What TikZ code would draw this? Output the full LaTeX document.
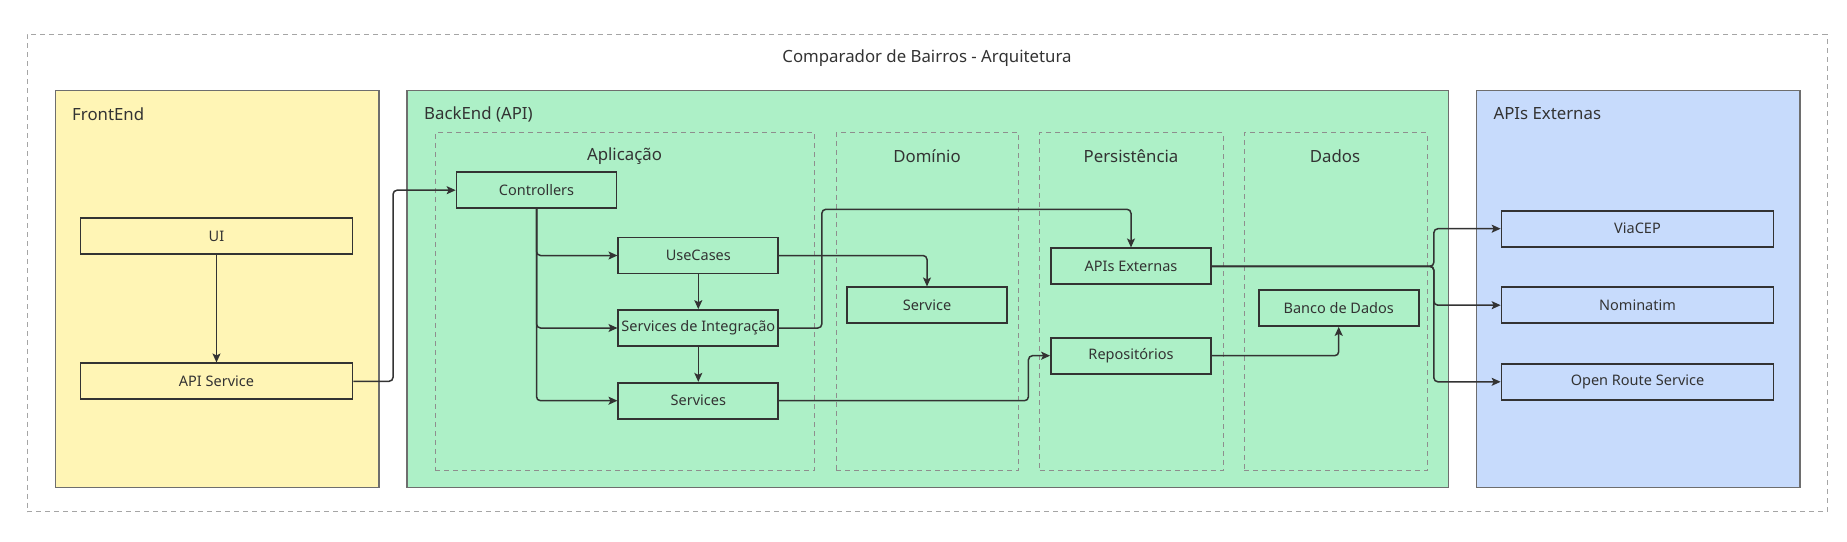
\documentclass[tikz,border=0pt]{standalone}
\usepackage{fontspec}
\setmainfont{Noto Sans}
\usepackage{xcolor}
\usepackage{tikz}
\usetikzlibrary{positioning,calc,arrows.meta}

\definecolor{frontfill}{HTML}{FFF5B5}
\definecolor{backfill}{HTML}{ADF0C7}
\definecolor{extfill}{HTML}{C7DBFC}
\definecolor{boxline}{HTML}{333333}
\definecolor{groupline}{HTML}{6E6E6E}
\definecolor{dashline}{HTML}{8E8E8E}
\definecolor{textgray}{HTML}{333333}

\begin{document}
\begin{tikzpicture}[
    x=1pt, y=-1pt,
    font=\fontsize{14.5}{17}\selectfont,
    block/.style={draw=boxline, line width=1.7pt, minimum width=160pt, minimum height=36pt, inner sep=0pt, text=textgray},
    wideblock/.style={block, minimum width=272pt},
    group/.style={draw=groupline, line width=1.4pt, anchor=north west, inner sep=0pt},
    layer/.style={draw=dashline, line width=1pt, dash pattern=on 5pt off 4pt, anchor=north west, inner sep=0pt},
    grouptitle/.style={anchor=west, inner sep=0pt, font=\fontsize{16.8}{20}\selectfont, text=textgray},
    layertitle/.style={inner sep=0pt, font=\fontsize{16.8}{20}\selectfont, text=textgray},
    flow/.style={draw=boxline, line width=1.5pt, rounded corners=4pt, -{Stealth[length=9pt,width=8pt,inset=2pt]}}
]
    \useasboundingbox (0,0) rectangle (1847,541);

    % containers
    \node[layer, draw=dashline!80, minimum width=1800pt, minimum height=477pt] (outer) at (26.7,34) {};
    \node[layertitle] (title) at (927,58) {Comparador de Bairros - Arquitetura};

    \node[group, fill=frontfill, minimum width=323.6pt, minimum height=396.7pt] (frontend) at (54.7,90) {};
    \node[group, fill=backfill, minimum width=1041.4pt, minimum height=396.7pt] (backend) at (406.3,90) {};
    \node[group, fill=extfill, minimum width=323.6pt, minimum height=396.7pt] (externas) at (1475.7,90) {};
    \node[grouptitle] (frontendtitle) at (72,114) {FrontEnd};
    \node[grouptitle] (backendtitle) at (424,114) {BackEnd (API)};
    \node[grouptitle] (externastitle) at (1493.3,114) {APIs Externas};

    % layers of the backend
    \node[layer, minimum width=379.6pt, minimum height=337.7pt] (aplicacao) at (434.7,132.3) {};
    \node[layer, minimum width=182.6pt, minimum height=337.7pt] (dominio) at (835.7,132.3) {};
    \node[layer, minimum width=183.4pt, minimum height=337.7pt] (persistencia) at (1039.3,132.3) {};
    \node[layer, minimum width=183pt, minimum height=337.7pt] (dados) at (1243.7,132.3) {};
    \node[layertitle] (aplicacaotitle) at (624.5,156) {Aplicação};
    \node[layertitle] (dominiotitle) at (927,156) {Domínio};
    \node[layertitle] (persistenciatitle) at (1131,156) {Persistência};
    \node[layertitle] (dadostitle) at (1335,156) {Dados};

    % blocks
    \node[wideblock, fill=frontfill] (ui) at (216.5,236) {UI};
    \node[wideblock, fill=frontfill] (api) at (216.5,381.3) {API Service};

    \node[block, fill=backfill] (ctrl) at (536.5,190.2) {Controllers};
    \node[block, fill=backfill] (uc) at (698.3,255.5) {UseCases};
    \node[block, fill=backfill] (sdi) at (698.3,328) {Services de Integração};
    \node[block, fill=backfill] (svcs) at (698.3,400.7) {Services};
    \node[block, fill=backfill] (svc) at (927,305.3) {Service};
    \node[block, fill=backfill] (apiext) at (1131,266.3) {APIs Externas};
    \node[block, fill=backfill] (repo) at (1131,355.7) {Repositórios};
    \node[block, fill=backfill] (banco) at (1338.7,308) {Banco de Dados};

    \node[wideblock, fill=extfill] (via) at (1637.5,228.7) {ViaCEP};
    \node[wideblock, fill=extfill] (nom) at (1637.5,305.2) {Nominatim};
    \node[wideblock, fill=extfill] (ors) at (1637.5,381.8) {Open Route Service};

    % connectors
    \draw[flow] (ui.south) -- (api.north);
    \draw[flow] (api.east) -- ++(39.7,0) |- (ctrl.west);

    \draw[flow] (ctrl.south) |- (uc.west);
    \draw[flow] (ctrl.south) |- (sdi.west);
    \draw[flow] (ctrl.south) |- (svcs.west);
    \draw[flow] (uc.south) -- (sdi.north);
    \draw[flow] (sdi.south) -- (svcs.north);

    \draw[flow] (uc.east) -| (svc.north);
    \draw[flow] (sdi.east) -- ++(42.7,0) -- ++(0,-118.7) -| (apiext.north);
    \draw[flow] (svcs.east) -- ++(249.3,0) |- (repo.west);
    \draw[flow] (repo.east) -| (banco.south);

    \coordinate (fork) at ($(apiext.east)+(222,0)$);
    \draw[flow] (apiext.east) -- (fork) |- (via.west);
    \draw[flow] (apiext.east) -- (fork) |- (nom.west);
    \draw[flow] (apiext.east) -- (fork) |- (ors.west);
\end{tikzpicture}
\end{document}
